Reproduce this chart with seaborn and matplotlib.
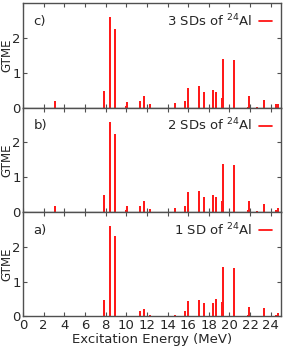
import numpy as np
import matplotlib
matplotlib.use('Agg')
import matplotlib.pyplot as plt
import seaborn as sns

# excitation energies (MeV) of the GT states
energy = [3.07, 7.85, 8.43, 8.89, 9.95, 10.1, 11.34, 11.7, 12.3, 14.76, 15.7, 15.99,
          17.08, 17.57, 18.38, 18.7, 19.28, 19.4, 20.47, 21.83, 21.93, 22.67, 23.32,
          24.54, 24.68]

# GT matrix elements for each panel
gtme_3sd = [0.19, 0.49, 2.6, 2.26, 0.05, 0.17, 0.18, 0.33, 0.11, 0.14, 0.18, 0.57,
            0.62, 0.44, 0.51, 0.46, 0.29, 1.41, 1.36, 0.03, 0.33, 0.01, 0.22,
            0.11, 0.11]
gtme_2sd = [0.18, 0.48, 2.6, 2.24, 0.05, 0.17, 0.17, 0.33, 0.10, 0.13, 0.17, 0.57,
            0.61, 0.42, 0.49, 0.43, 0.32, 1.38, 1.34, 0.07, 0.31, 0.02, 0.24,
            0.06, 0.11]
gtme_1sd = [0.02, 0.47, 2.6, 2.32, 0.0, 0.01, 0.15, 0.20, 0.04, 0.03, 0.15, 0.45,
            0.48, 0.38, 0.40, 0.51, 0.42, 1.42, 1.40, 0.03, 0.27, 0.01, 0.23,
            0.04, 0.09]

panels = [('c)', '3 SDs of $^{24}$Al', gtme_3sd),
          ('b)', '2 SDs of $^{24}$Al', gtme_2sd),
          ('a)', '1 SD of $^{24}$Al', gtme_1sd)]

sns.set_style('ticks')
plt.rcParams['font.family'] = ['DejaVu Sans']
fs = 9.5

fig, axes = plt.subplots(3, 1, figsize=(2.91, 3.6), dpi=100, sharex=True)
fig.subplots_adjust(left=0.079, right=0.966, top=0.991, bottom=0.121, hspace=0)

frame = '#505050'
for ax, (tag, label, vals) in zip(axes, panels):
    ax.bar(energy, vals, width=0.2, color='#ff1a1a', linewidth=0)
    ax.set_xlim(0, 25)
    ax.set_ylim(0, 3)
    ax.set_yticks([0, 1, 2])
    ax.set_xticks(np.arange(0, 25, 2))
    ax.tick_params(direction='in', top=True, right=True, length=3, width=0.8,
                   color=frame, labelsize=fs, pad=1.5)
    for s in ax.spines.values():
        s.set_color(frame)
        s.set_linewidth(1.0)
    ax.set_ylabel('GTME', fontsize=8.5, va='center')
    ax.yaxis.set_label_coords(-0.062, 0.5)
    ax.text(0.04, 0.89, tag, transform=ax.transAxes, fontsize=fs, va='top')
    ax.plot([], [], color='red', lw=1.2, label=label)
    ax.legend(loc='upper right', frameon=False, fontsize=fs, handlelength=1.0,
              handletextpad=0.5, markerfirst=False, borderaxespad=0.3)

axes[-1].set_xlabel('Excitation Energy (MeV)', fontsize=fs, labelpad=1)

fig.savefig('out.png', dpi=100)
